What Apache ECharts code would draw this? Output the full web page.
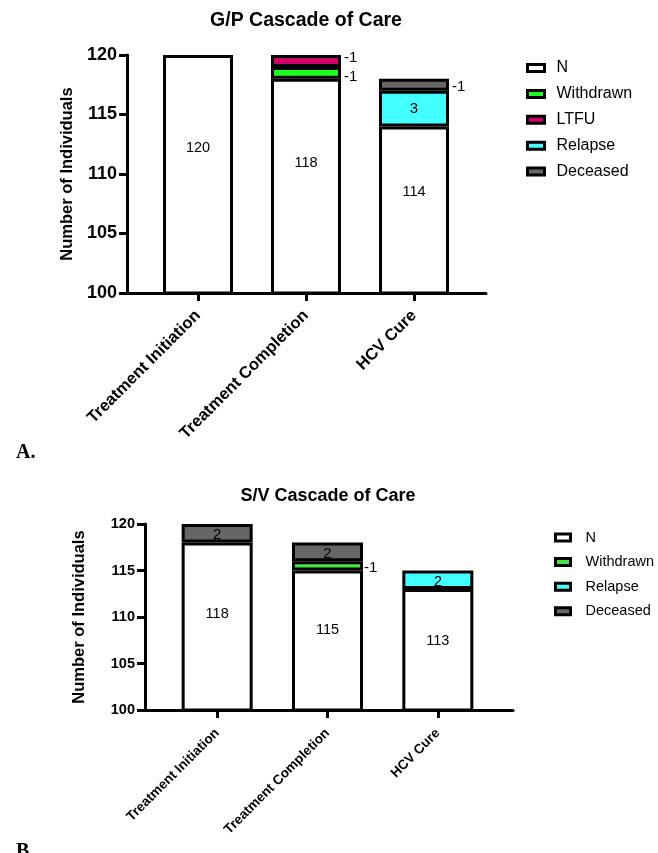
<!DOCTYPE html>
<html><head><meta charset="utf-8">
<script src="https://cdn.jsdelivr.net/npm/echarts@6/dist/echarts.min.js"></script>
<style>html,body{margin:0;padding:0;background:#fff}#c{width:658px;height:853px}</style>
</head><body><div id="c"></div>
<script>
// ---- data ----
const categories = ['Treatment Initiation', 'Treatment Completion', 'HCV Cure'];
const yTicks = [100, 105, 110, 115, 120];
const gpN = [120, 118, 114];
const gpWithdrawn = [null, 1, null];
const gpLTFU = [null, 1, null];
const gpRelapse = [null, null, 3];
const gpDeceased = [null, null, 1];
const svN = [118, 115, 113];
const svWithdrawn = [null, 1, null];
const svRelapse = [null, null, 2];
const svDeceased = [2, 2, null];
const gpLegend = ['N', 'Withdrawn', 'LTFU', 'Relapse', 'Deceased'];
const svLegend = ['N', 'Withdrawn', 'Relapse', 'Deceased'];

// ---- styles ----
const FONT = 'Arial, "Liberation Sans", sans-serif';
const C = { N: '#ffffff', gpW: '#1cff1c', svW: '#44e444', LTFU: '#cc0066', Rel: '#44ffff', Dec: '#666666' };
const yMin = yTicks[0], yMax = yTicks[yTicks.length - 1], yInt = yTicks[1] - yTicks[0];

const chart = echarts.init(document.getElementById('c'), null, { renderer: 'canvas' });

function bar(name, data, stack, gi, color, bw, brd, label) {
  return {
    type: 'bar', name, data, stack, xAxisIndex: gi, yAxisIndex: gi, barWidth: bw, clip: true,
    itemStyle: { color, borderColor: '#000', borderWidth: brd },
    label: Object.assign({ fontFamily: FONT, color: '#000', textBorderWidth: 0 }, label),
    emphasis: { disabled: true }
  };
}
const nLbl = (pct) => ({ show: true, position: ['50%', pct], align: 'center', verticalAlign: 'middle', fontSize: 14.5 });
const rightLbl = (dy) => ({ show: true, position: 'right', distance: 3, fontSize: 15, offset: [0, dy], formatter: p => '-' + p.value });
const inLbl = { show: true, position: 'inside', fontSize: 15 };

function frameAxes(gi, labelSize, nameGap) {
  return {
    x: { gridIndex: gi, type: 'value', min: 0, max: 1, axisLine: { show: true, onZero: false, lineStyle: { color: '#000', width: 3 } }, axisTick: { show: false }, axisLabel: { show: false }, splitLine: { show: false } },
    y: { gridIndex: gi, type: 'value', min: yMin, max: yMax, interval: yInt,
      axisLine: { show: true, onZero: false, lineStyle: { color: '#000', width: 3 } },
      axisTick: { show: true, length: 8, lineStyle: { color: '#000', width: 3 } },
      axisLabel: { fontSize: labelSize, fontWeight: 'bold', color: '#000', margin: 10, fontFamily: FONT },
      splitLine: { show: false },
      name: 'Number of Individuals', nameLocation: 'middle', nameGap: nameGap,
      nameTextStyle: { fontSize: 16.5, fontWeight: 'bold', color: '#000', fontFamily: FONT } }
  };
}
function barAxes(gi, labelSize, margin) {
  return {
    x: { gridIndex: gi, type: 'category', data: categories, axisLine: { show: false },
      axisTick: { show: true, alignWithLabel: true, length: 8, lineStyle: { color: '#000', width: 3 } },
      axisLabel: { rotate: 45, interval: 0, margin: margin, fontSize: labelSize, fontWeight: 'bold', color: '#000', fontFamily: FONT } },
    y: { gridIndex: gi, type: 'value', min: yMin, max: yMax, interval: yInt, show: false }
  };
}
const f0 = frameAxes(0, 18, 39), b1 = barAxes(1, 16.5, 20), f2 = frameAxes(2, 14.5, 57), b3 = barAxes(3, 13.5, 21);

const option = {
  animation: false,
  backgroundColor: '#fff',
  grid: [
    { left: 127, top: 55, width: 359, height: 238 },
    { left: 144, top: 55, width: 324, height: 238 },
    { left: 145, top: 524, width: 368, height: 186 },
    { left: 162, top: 524, width: 331, height: 186 }
  ],
  xAxis: [f0.x, b1.x, f2.x, b3.x],
  yAxis: [f0.y, b1.y, f2.y, b3.y],
  legend: [
    { data: gpLegend, orient: 'vertical', left: 526, top: 60, padding: 0, itemWidth: 17, itemHeight: 7, itemGap: 9.9, icon: 'rect', selectedMode: false,
      itemStyle: { borderColor: '#000', borderWidth: 3 },
      textStyle: { fontSize: 16, lineHeight: 16, color: '#000', fontFamily: FONT, padding: [0, 0, 0, 7] } },
    { data: svLegend.map(n => n === 'Withdrawn' ? { name: n, itemStyle: { color: C.svW } } : { name: n }),
      orient: 'vertical', left: 554, top: 530, padding: 0, itemWidth: 15, itemHeight: 7, itemGap: 9.6, icon: 'rect', selectedMode: false,
      itemStyle: { borderColor: '#000', borderWidth: 3 },
      textStyle: { fontSize: 14.5, lineHeight: 14, color: '#000', fontFamily: FONT, padding: [0, 0, 0, 10] } }
  ],
  series: [
    bar('N', gpN, 'gp', 1, C.N, 70, 3, nLbl('39%')),
    bar('Withdrawn', gpWithdrawn, 'gp', 1, C.gpW, 70, 3, rightLbl(4)),
    bar('LTFU', gpLTFU, 'gp', 1, C.LTFU, 70, 3, rightLbl(-3)),
    bar('Relapse', gpRelapse, 'gp', 1, C.Rel, 70, 3, inLbl),
    bar('Deceased', gpDeceased, 'gp', 1, C.Dec, 70, 3, rightLbl(2)),
    bar('N', svN, 'sv', 3, C.N, 71, 3, nLbl('42%')),
    bar('Withdrawn', svWithdrawn, 'sv', 3, C.svW, 71, 3, Object.assign(rightLbl(2), { distance: 1 })),
    bar('Relapse', svRelapse, 'sv', 3, C.Rel, 71, 3, Object.assign({}, inLbl, { offset: [0, 2] })),
    bar('Deceased', svDeceased, 'sv', 3, C.Dec, 71, 3, Object.assign({}, inLbl, { offset: [0, 2] }))
  ],
  graphic: [
    { type: 'text', x: 306, y: 21, style: { text: 'G/P Cascade of Care', font: 'bold 19.5px ' + FONT, fill: '#000', textAlign: 'center', textVerticalAlign: 'middle' } },
    { type: 'text', x: 328, y: 496, style: { text: 'S/V Cascade of Care', font: 'bold 18px ' + FONT, fill: '#000', textAlign: 'center', textVerticalAlign: 'middle' } },
    { type: 'text', x: 16, y: 453, style: { text: 'A.', font: 'bold 20px "Liberation Serif", "Times New Roman", serif', fill: '#000', textAlign: 'left', textVerticalAlign: 'middle' } },
    { type: 'text', x: 16, y: 852, style: { text: 'B.', font: 'bold 20px "Liberation Serif", "Times New Roman", serif', fill: '#000', textAlign: 'left', textVerticalAlign: 'middle' } }
  ]
};
chart.setOption(option);
</script></body></html>
